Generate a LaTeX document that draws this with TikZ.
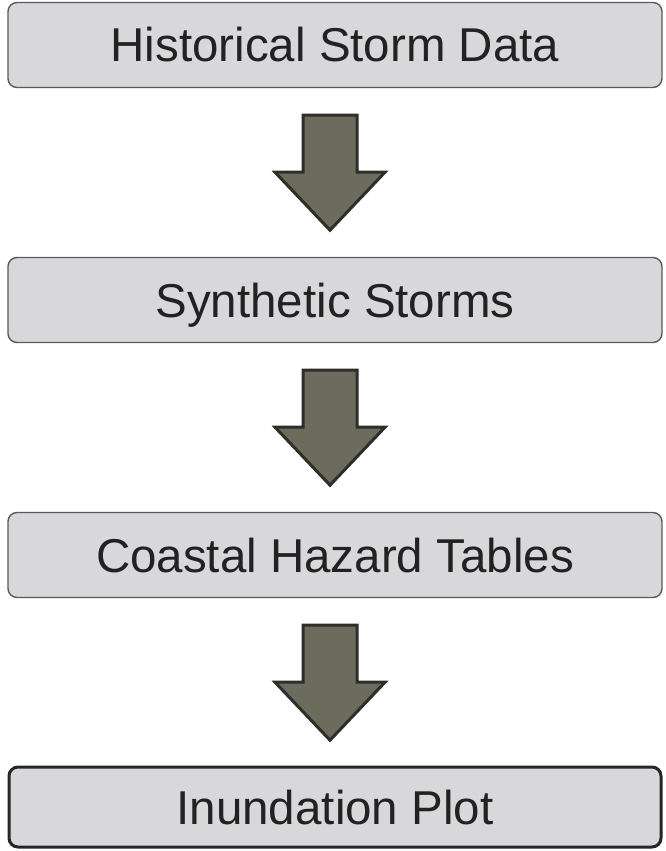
\documentclass[tikz,border=0pt]{standalone}
\usepackage{fontspec}
\setmainfont{Liberation Sans}
\usetikzlibrary{calc}
\definecolor{boxfill}{HTML}{D8D8DB}
\definecolor{boxline}{HTML}{5A5A5A}
\definecolor{arrowfill}{HTML}{6C6C5E}
\definecolor{arrowline}{HTML}{2E2E2A}
\definecolor{txt}{HTML}{222222}
\tikzset{
  stagebox/.style={draw=boxline, line width=1.4pt, fill=boxfill, rounded corners=9pt,
    minimum width=654pt, minimum height=85pt, inner sep=0pt,
    text height=34pt, text depth=0pt,
    font=\fontsize{47.5}{50}\selectfont, text=txt},
  lastbox/.style={stagebox, draw=black!85, line width=3pt, minimum width=652pt, minimum height=80pt},
  arrowstyle/.style={draw=arrowline, fill=arrowfill, line width=3pt, miter limit=10},
  downarrow/.pic={\path[arrowstyle] (-27pt,0) -- (27pt,0) -- (27pt,-57pt) -- (55pt,-57pt)
     -- (0,-115pt) -- (-55pt,-57pt) -- (-27pt,-57pt) -- cycle;}
}
\begin{document}
\begin{tikzpicture}
\useasboundingbox[fill=white] (0,0) rectangle (666pt,-851pt);
\node[stagebox] (b1) at (335pt,-45pt) {Historical Storm Data};
\node[stagebox] (b2) at (335pt,-300pt) {Synthetic Storms};
\node[stagebox] (b3) at (335pt,-555pt) {Coastal Hazard Tables};
\node[lastbox] (b4) at (335pt,-807pt) {Inundation Plot};
\pic at ($(b1.south)+(-5pt,-27pt)$) {downarrow};
\pic at ($(b2.south)+(-5pt,-27pt)$) {downarrow};
\pic at ($(b3.south)+(-5pt,-27pt)$) {downarrow};
\end{tikzpicture}
\end{document}
